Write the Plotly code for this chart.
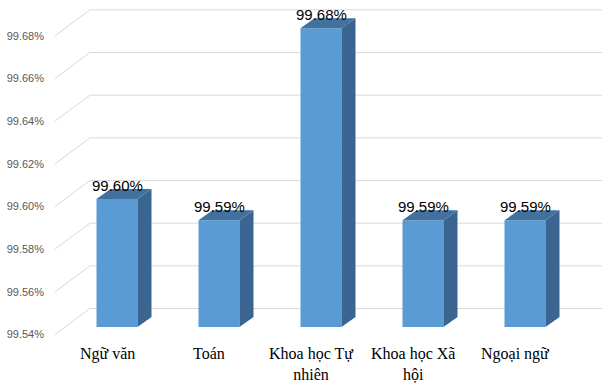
import plotly.graph_objects as go

# ---- data ----
categories = ["Ngữ văn", "Toán", "Khoa học Tự<br>nhiên", "Khoa học Xã<br>hội", "Ngoại ngữ"]
values = [99.60, 99.59, 99.68, 99.59, 99.59]
tick_values = [99.54, 99.56, 99.58, 99.60, 99.62, 99.64, 99.66, 99.68]
tick_labels = ["99.54%", "99.56%", "99.58%", "99.60%", "99.62%", "99.64%", "99.66%", "99.68%"]

# ---- layout geometry (pixels) ----
W, H = 611, 388
PL, PR, PT, PB = 55, 605, 5, 340          # plot area in pixels
SY = 42.67 / 0.02                           # px per value unit
SX = 102.0                                  # px per category
REF_V, REF_PX = 99.60, 199                  # bar-front plane anchor
X0_PX = 117                                 # first bar centre px

y_lo = REF_V - (PB - REF_PX) / SY
y_hi = REF_V + (REF_PX - PT) / SY
x_lo = -(X0_PX - PL) / SX
x_hi = x_lo + (PR - PL) / SX

def dxu(px): return px / SX
def dyu(px): return px / SY

BAR_W = 41 / SX
DEP_X, DEP_Y = dxu(14), dyu(10)
base = tick_values[0]

FRONT = "#5B9BD5"
SIDE = "#3A6591"
TOP = "#41719C"
GRID = "#D9D9D9"

fig = go.Figure()

# gridlines: diagonal on left "side wall" + back wall horizontals
for t in tick_values:
    fig.add_trace(go.Scatter(
        x=[x_lo, x_lo + dxu(35), x_lo + dxu(547)],
        y=[t - dyu(7.5), t + dyu(18.5), t + dyu(18.5)],
        mode="lines", line=dict(color=GRID, width=1),
        hoverinfo="skip", showlegend=False))

# bars: front, side & top faces
for i, v in enumerate(values):
    r = i + BAR_W / 2
    l = i - BAR_W / 2
    fig.add_trace(go.Scatter(
        x=[l, r, r, l, l], y=[base, base, v, v, base],
        fill="toself", fillcolor=FRONT, mode="lines", line=dict(width=0, color=FRONT),
        hoverinfo="skip", showlegend=False))
    fig.add_trace(go.Scatter(
        x=[r, r + DEP_X, r + DEP_X, r, r],
        y=[base, base + DEP_Y, v + DEP_Y, v, base],
        fill="toself", fillcolor=SIDE, mode="lines", line=dict(width=0, color=SIDE),
        hoverinfo="skip", showlegend=False))
    fig.add_trace(go.Scatter(
        x=[l, l + DEP_X, r + DEP_X, r, l],
        y=[v, v + DEP_Y, v + DEP_Y, v, v],
        fill="toself", fillcolor=TOP, mode="lines", line=dict(width=0, color=TOP),
        hoverinfo="skip", showlegend=False))
    fig.add_annotation(x=i, y=v, yshift=14, text=f"{v:.2f}%", showarrow=False,
                       font=dict(family="Liberation Sans", size=15, color="#000000"),
                       xanchor="center", yanchor="middle")

# category labels
for i, c in enumerate(categories):
    fig.add_annotation(x=i - dxu(10), y=(PB - 343) / (PB - PT), yref="paper",
                       text=c, showarrow=False, xanchor="center", yanchor="top",
                       font=dict(family="Liberation Serif", size=16, color="#000000"))

# invisible trace for tick-label axis
fig.add_trace(go.Scatter(x=[x_lo], y=[tick_values[0]], yaxis="y2", mode="markers",
                         marker=dict(opacity=0), hoverinfo="skip", showlegend=False))

shift = dyu(7.5)
fig.update_layout(
    width=W, height=H,
    margin=dict(l=PL, r=W - PR, t=PT, b=H - PB, pad=0),
    paper_bgcolor="white", plot_bgcolor="white",
    xaxis=dict(range=[x_lo, x_hi], showgrid=False, zeroline=False,
               showticklabels=False, showline=False, fixedrange=True),
    yaxis=dict(range=[y_lo, y_hi], showgrid=False, zeroline=False,
               showticklabels=False, showline=False),
    yaxis2=dict(range=[y_lo + shift, y_hi + shift], overlaying="y", side="left",
                showgrid=False, zeroline=False, showline=False,
                tickmode="array", tickvals=tick_values, ticktext=tick_labels,
                ticks="", ticklabelstandoff=10,
                tickfont=dict(family="Liberation Sans", size=11, color="#595959")),
)

fig.write_html("out.html")
